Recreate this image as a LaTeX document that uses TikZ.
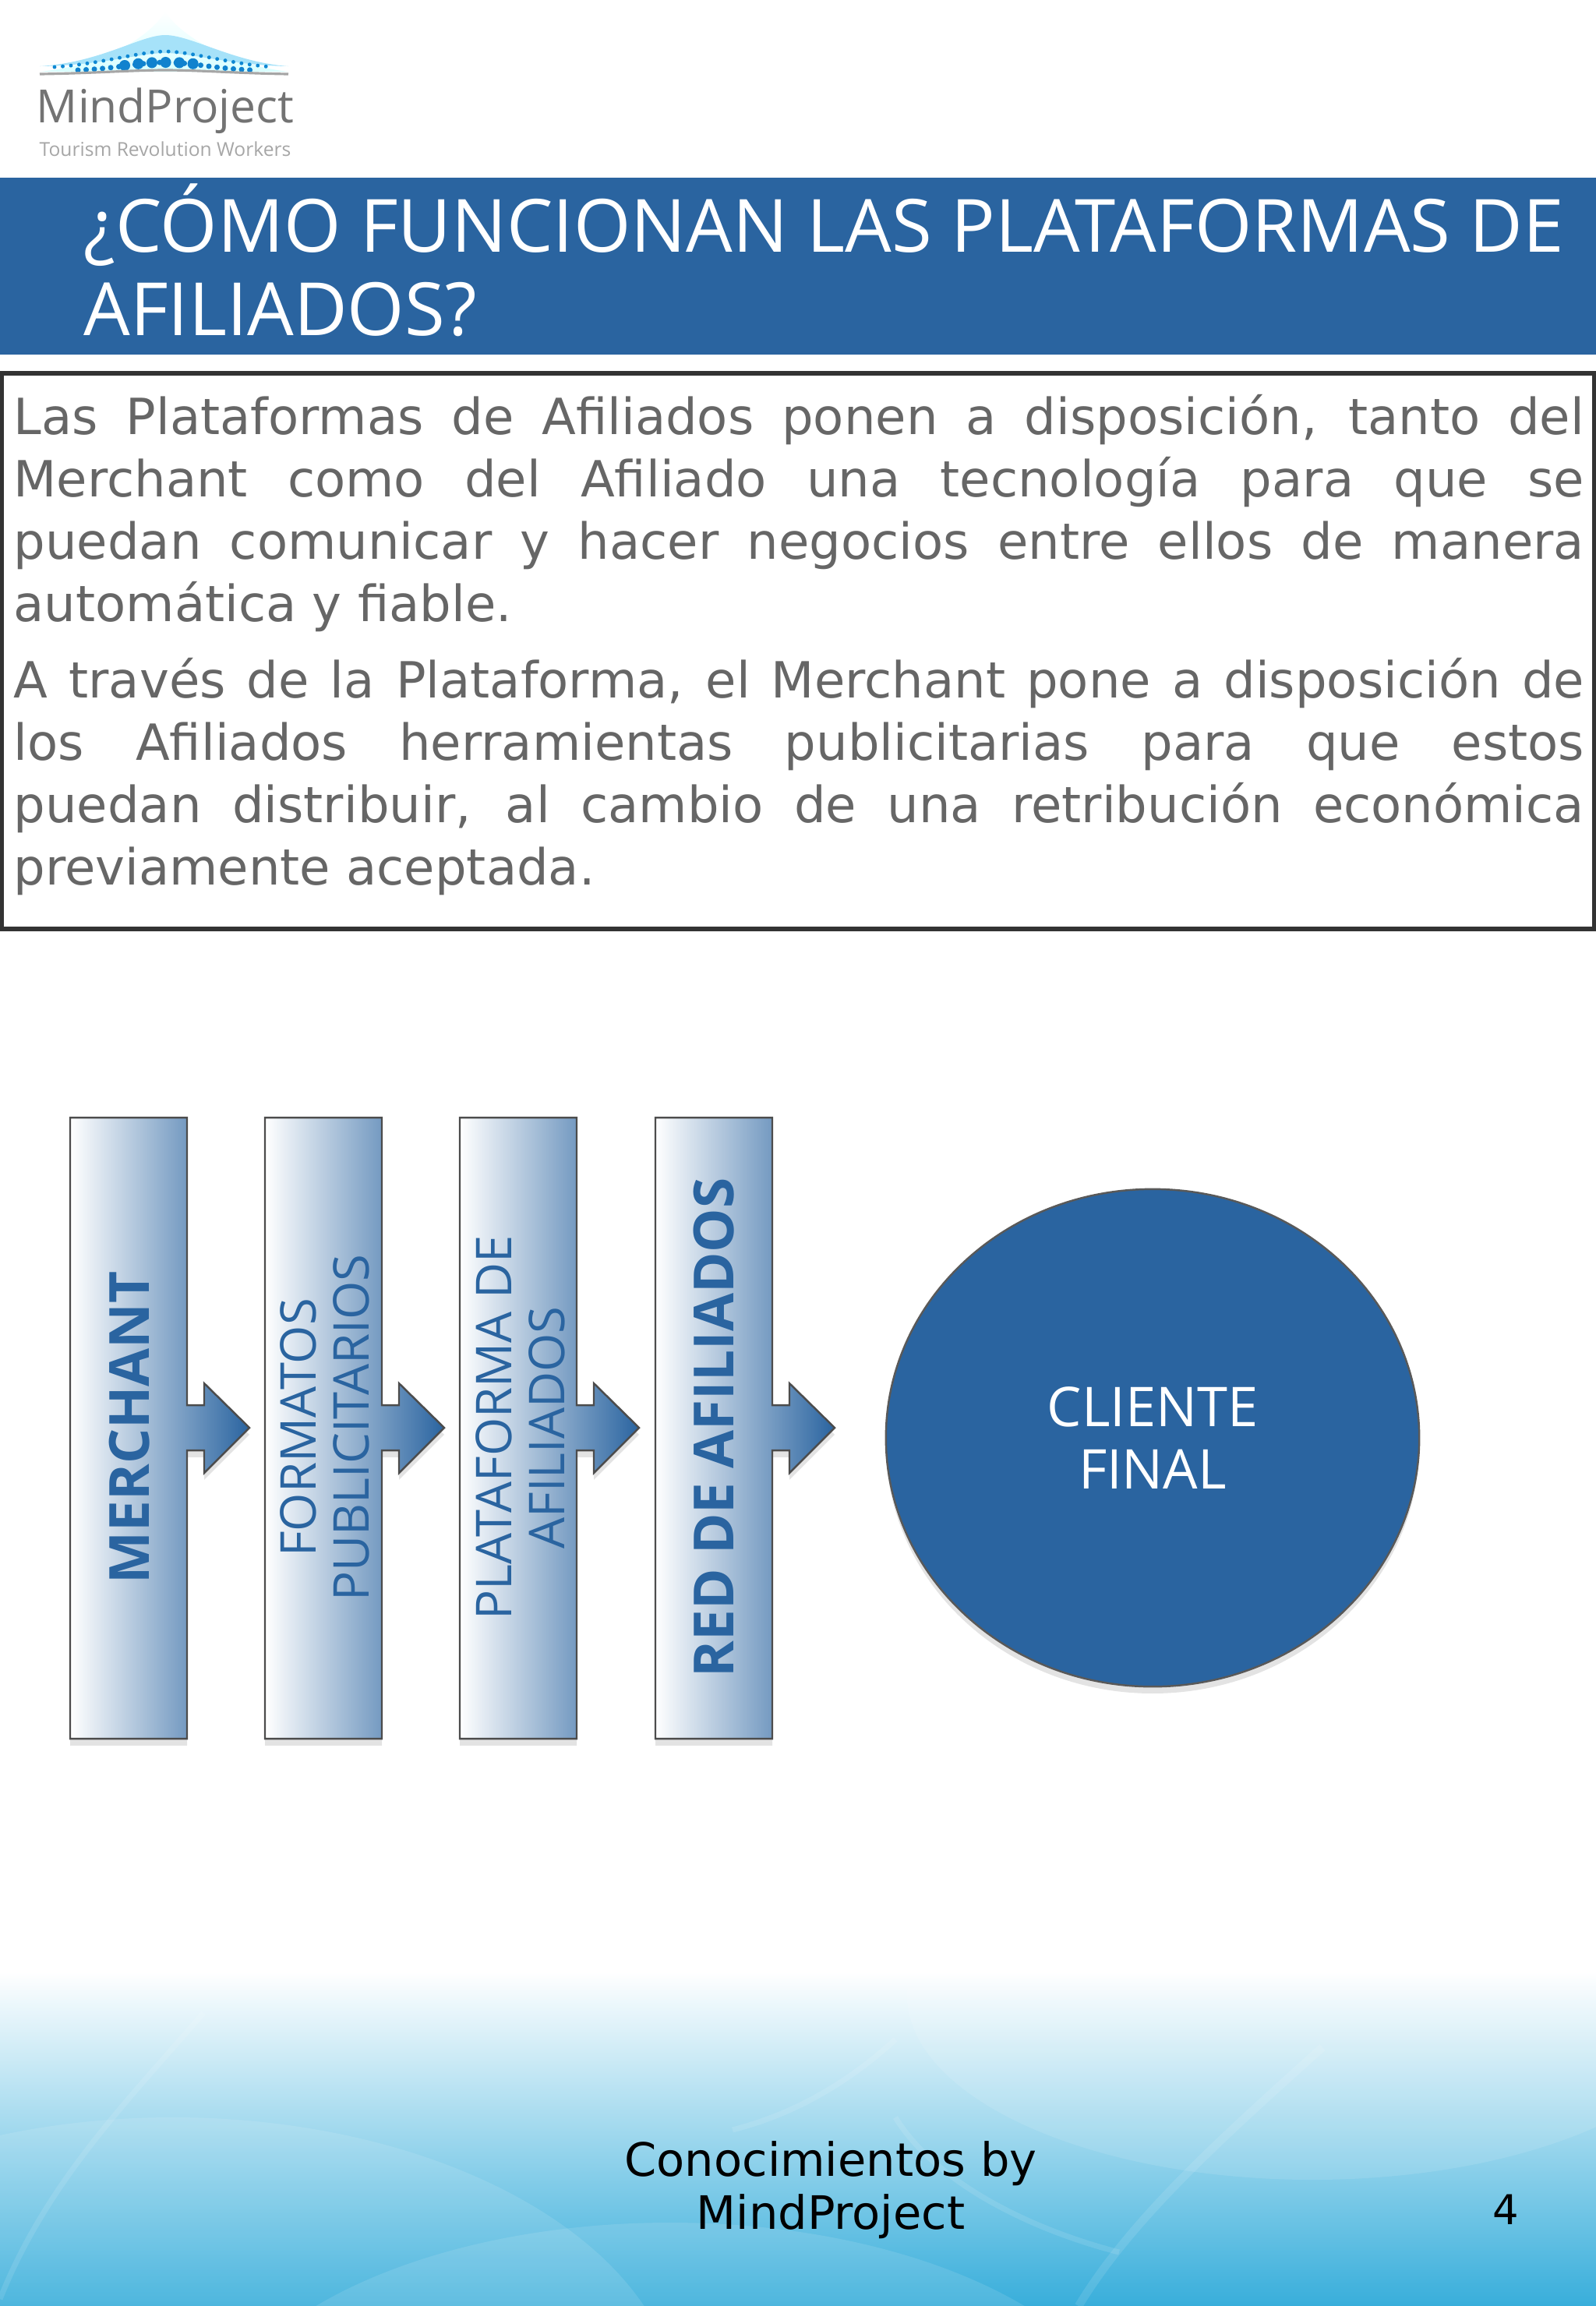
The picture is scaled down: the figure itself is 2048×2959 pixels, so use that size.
\documentclass[tikz,border=0pt]{standalone}
\usepackage{fontspec}
\setmainfont{Open Sans}
\newfontfamily\cuerpofont{DejaVu Sans}
\usetikzlibrary{%
    shapes.geometric,%
    shadows
}
\definecolor{azul}{HTML}{2A64A0}
\definecolor{gristexto}{HTML}{666666}
\definecolor{cielo}{HTML}{38AEDB}

\begin{document}
\begin{tikzpicture}[x=0.01cm,y=-0.01cm,
    titulo/.style={font={\fontsize{26.8}{30.4}\selectfont},text=white,anchor=north west,
        inner sep=0pt,align=left},
    parrafo/.style={font={\cuerpofont\fontsize{18.2}{22.7}\selectfont},text=gristexto,
        anchor=north west,inner sep=0pt,text width=20.14cm,align=justify},
    caja/.style={draw=black!70,line width=0.7pt,left color=white,right color=azul,
        drop shadow={opacity=0.22,shadow xshift=0pt,shadow yshift=-2.5pt}},
    cajatexto/.style={text=azul,rotate=90,align=center,inner sep=0pt,
        font={\fontsize{18}{19.3}\selectfont}},
    cajafuerte/.style={cajatexto,font={\bfseries\fontsize{20.2}{22}\selectfont}},
    pie/.style={font={\cuerpofont\fontsize{16.8}{19.3}\selectfont},text=black,align=center,inner sep=0pt},
    velo/.style={white,opacity=0.11}]
\useasboundingbox (0,0) rectangle (2048,2959);

% logo
\shade[top color=white,bottom color=cyan!30!white,opacity=0.5]
    (51,92) .. controls (130,84) and (190,50) .. (212,15) .. controls (235,50) and (300,84) .. (370,92) -- cycle;
\fill[cyan!35!white] (51,85) .. controls (130,80) and (180,45) .. (212,45) .. controls (245,45) and (300,80) .. (370,85) .. controls (300,84) and (245,68) .. (212,68) .. controls (180,68) and (130,84) .. (51,85) -- cycle;
\draw[cyan!70!blue,line width=1.4pt,line cap=round,dash pattern=on 0pt off 3pt]
    (70,86) .. controls (130,82) and (180,66) .. (212,66) .. controls (245,66) and (295,82) .. (350,86);
\draw[cyan!65!blue,line width=2pt,line cap=round,dash pattern=on 0pt off 3pt]
    (100,90) .. controls (150,88) and (180,80) .. (212,80) .. controls (245,80) and (275,88) .. (325,90);
\draw[cyan!65!blue,line width=4pt,line cap=round,dash pattern=on 0pt off 5pt]
    (160,84) .. controls (180,81) and (195,80) .. (212,80) .. controls (230,80) and (245,81) .. (265,84);
\draw[black!35,line width=0.9pt] (51,95) .. controls (120,94) and (170,90) .. (212,90) .. controls (255,90) and (305,94) .. (370,95);
\node[text=black!55,inner sep=0pt,font={\fontsize{16.7}{17}\selectfont}] (logonombre) at (212,142) {MindProject};
\node[text=black!35,inner sep=0pt,font={\fontsize{7}{7}\selectfont}] (logolema) at (212,191) {Tourism Revolution Workers};

% banda del titulo
\fill[azul] (0,228) rectangle (2048,455);
\node[titulo] (titulotexto) at (107,235) {¿CÓMO FUNCIONAN LAS PLATAFORMAS DE\\AFILIADOS?};

% recuadro de texto
\draw[black!80,line width=1.6pt] (2,479) rectangle (2046,1192);
\node[parrafo] (parrafouno) at (17,506) {Las Plataformas de Afiliados ponen a disposición, tanto del\linebreak
Merchant como del Afiliado una tecnología para que se\linebreak
puedan comunicar y hacer negocios entre ellos de manera\linebreak
automática y fiable.};
\node[parrafo] (parrafodos) at (17,844) {A través de la Plataforma, el Merchant pone a disposición de\linebreak
los Afiliados herramientas publicitarias para que estos\linebreak
puedan distribuir, al cambio de una retribución económica\linebreak
previamente aceptada.};

% pie
\shade[top color=white,bottom color=cielo] (0,2530) rectangle (2048,2959);
\begin{scope}
\clip (0,2530) rectangle (2048,2959);
\fill[velo] (222,3100) ellipse (650 and 383);
\fill[velo] (860,3160) ellipse (600 and 308);
\fill[velo] (1684,2560) ellipse (520 and 237);
\draw[velo,line width=2pt] (261,2583) .. controls (160,2700) and (60,2800) .. (0,2950);
\draw[velo,line width=3pt] (1697,2627) .. controls (1560,2750) and (1450,2850) .. (1384,2959);
\draw[velo,line width=2pt] (1149,2617) .. controls (1080,2680) and (1010,2715) .. (940,2733);
\draw[velo,line width=2pt] (1149,2717) .. controls (1200,2800) and (1320,2860) .. (1436,2890);
\end{scope}

% cajas con flecha
\draw[caja] (90,1434) -- (240,1434) -- (240,1803) -- (262,1803) -- (262,1775) -- (320,1832) -- (262,1890) -- (262,1861) -- (240,1861) -- (240,2231) -- (90,2231) -- cycle;
\draw[caja] (340,1434) -- (490,1434) -- (490,1803) -- (512,1803) -- (512,1775) -- (570,1832) -- (512,1890) -- (512,1861) -- (490,1861) -- (490,2231) -- (340,2231) -- cycle;
\draw[caja] (590,1434) -- (740,1434) -- (740,1803) -- (762,1803) -- (762,1775) -- (820,1832) -- (762,1890) -- (762,1861) -- (740,1861) -- (740,2231) -- (590,2231) -- cycle;
\draw[caja] (841,1434) -- (991,1434) -- (991,1803) -- (1013,1803) -- (1013,1775) -- (1071,1832) -- (1013,1890) -- (1013,1861) -- (991,1861) -- (991,2231) -- (841,2231) -- cycle;

\node[cajafuerte] (merchant) at (166,1832) {MERCHANT};
\node[cajatexto] (formatos) at (417,1832) {FORMATOS\\PUBLICITARIOS};
\node[cajatexto] (plataforma) at (668,1832) {PLATAFORMA DE\\AFILIADOS};
\node[cajafuerte] (red) at (916,1832) {RED DE AFILIADOS};

\node[ellipse,draw=black!65,line width=0.7pt,fill=azul,text=white,inner sep=0pt,
    minimum width=6.84cm,minimum height=6.38cm,align=center,
    font={\fontsize{20}{22.7}\selectfont},
    drop shadow={opacity=0.22,shadow xshift=0pt,shadow yshift=-2.5pt}] (cliente) at (1479,1845) {CLIENTE\\FINAL};

\node[pie] (conocimientos) at (1066,2810) {Conocimientos by\\MindProject};
\node[pie,font={\cuerpofont\fontsize{15}{18}\selectfont}] (pagina) at (1932,2835) {4};
\end{tikzpicture}
\end{document}
